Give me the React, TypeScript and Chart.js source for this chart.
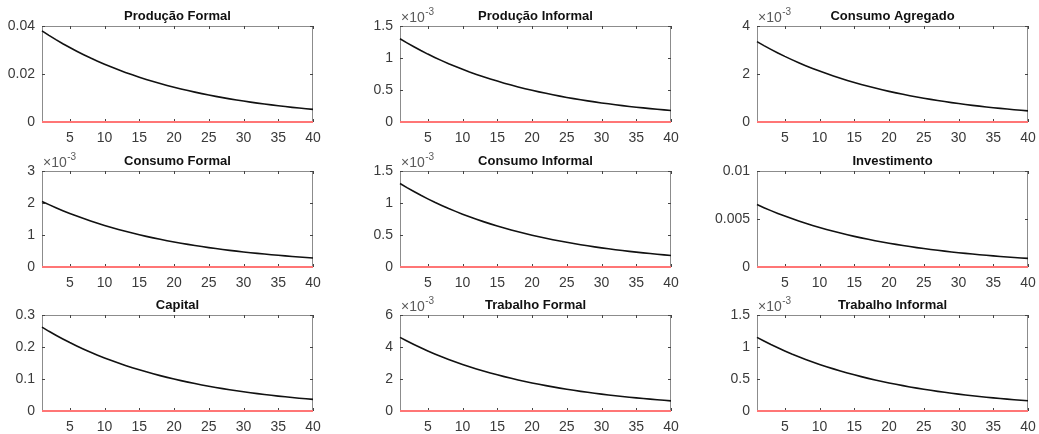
import React, { useEffect, useRef } from 'react';
import { Chart, registerables } from 'chart.js';

Chart.register(...registerables);

// ---------------- data ----------------
const periods = [1, 2, 3, 4, 5, 6, 7, 8, 9, 10, 11, 12, 13, 14, 15, 16, 17, 18, 19, 20,
  21, 22, 23, 24, 25, 26, 27, 28, 29, 30, 31, 32, 33, 34, 35, 36, 37, 38, 39, 40];

const steadyState = [0, 0, 0, 0, 0, 0, 0, 0, 0, 0, 0, 0, 0, 0, 0, 0, 0, 0, 0, 0,
  0, 0, 0, 0, 0, 0, 0, 0, 0, 0, 0, 0, 0, 0, 0, 0, 0, 0, 0, 0];

const producaoFormal = [0.0380, 0.03612, 0.03433, 0.03263, 0.03102, 0.02948, 0.02802, 0.02663, 0.02532, 0.02406,
  0.02287, 0.02174, 0.02066, 0.01964, 0.01867, 0.01775, 0.01687, 0.01603, 0.01524, 0.01449,
  0.01377, 0.01309, 0.01244, 0.01182, 0.01124, 0.01068, 0.01015, 0.00965, 0.00917, 0.00872,
  0.00829, 0.00788, 0.00749, 0.00712, 0.00676, 0.00643, 0.00611, 0.00581, 0.00552, 0.00525];

// values in units of 10^-3
const producaoInformal = [1.300, 1.236, 1.175, 1.116, 1.061, 1.009, 0.959, 0.911, 0.866, 0.823,
  0.782, 0.744, 0.707, 0.672, 0.639, 0.607, 0.577, 0.548, 0.521, 0.496,
  0.471, 0.448, 0.426, 0.404, 0.384, 0.365, 0.347, 0.330, 0.314, 0.298,
  0.284, 0.269, 0.256, 0.243, 0.231, 0.220, 0.209, 0.199, 0.189, 0.180];

const consumoAgregado = [3.350, 3.184, 3.027, 2.877, 2.734, 2.599, 2.470, 2.348, 2.232, 2.121,
  2.016, 1.917, 1.822, 1.732, 1.646, 1.564, 1.487, 1.413, 1.343, 1.277,
  1.214, 1.154, 1.096, 1.042, 0.991, 0.942, 0.895, 0.851, 0.809, 0.768,
  0.731, 0.694, 0.660, 0.627, 0.596, 0.567, 0.539, 0.512, 0.487, 0.463];

const consumoFormal = [2.050, 1.949, 1.852, 1.760, 1.673, 1.590, 1.512, 1.437, 1.366, 1.298,
  1.234, 1.173, 1.115, 1.060, 1.007, 0.957, 0.910, 0.865, 0.822, 0.781,
  0.743, 0.706, 0.671, 0.638, 0.606, 0.576, 0.548, 0.520, 0.495, 0.470,
  0.447, 0.425, 0.404, 0.384, 0.365, 0.347, 0.330, 0.313, 0.298, 0.283];

const consumoInformal = [1.305, 1.240, 1.179, 1.120, 1.065, 1.012, 0.962, 0.914, 0.869, 0.826,
  0.785, 0.746, 0.709, 0.674, 0.641, 0.609, 0.579, 0.550, 0.523, 0.497,
  0.473, 0.449, 0.427, 0.406, 0.386, 0.366, 0.348, 0.331, 0.315, 0.299,
  0.285, 0.270, 0.257, 0.244, 0.232, 0.221, 0.210, 0.199, 0.190, 0.180];

const investimento = [0.006500, 0.006178, 0.005873, 0.005582, 0.005305, 0.005043, 0.004793, 0.004556, 0.004330, 0.004116,
  0.003912, 0.003719, 0.003535, 0.003360, 0.003193, 0.003036, 0.002885, 0.002742, 0.002607, 0.002478,
  0.002355, 0.002239, 0.002127, 0.002022, 0.001922, 0.001827, 0.001737, 0.001650, 0.001569, 0.001491,
  0.001418, 0.001347, 0.001281, 0.001217, 0.001157, 0.001100, 0.001045, 0.000993, 0.000944, 0.000898];

const capital = [0.2620, 0.2490, 0.2367, 0.2250, 0.2138, 0.2033, 0.1932, 0.1836, 0.1745, 0.1659,
  0.1577, 0.1499, 0.1425, 0.1354, 0.1287, 0.1224, 0.1163, 0.1105, 0.1051, 0.0999,
  0.0949, 0.0902, 0.0858, 0.0815, 0.0775, 0.0736, 0.0700, 0.0665, 0.0632, 0.0601,
  0.0571, 0.0543, 0.0516, 0.0491, 0.0466, 0.0443, 0.0421, 0.0400, 0.0381, 0.0362];

const trabalhoFormal = [4.600, 4.372, 4.156, 3.950, 3.755, 3.569, 3.392, 3.224, 3.065, 2.913,
  2.769, 2.632, 2.501, 2.378, 2.260, 2.148, 2.042, 1.941, 1.845, 1.754,
  1.667, 1.584, 1.506, 1.431, 1.360, 1.293, 1.229, 1.168, 1.110, 1.055,
  1.003, 0.954, 0.906, 0.862, 0.819, 0.778, 0.740, 0.703, 0.668, 0.635];

const trabalhoInformal = [1.150, 1.093, 1.039, 0.988, 0.939, 0.892, 0.848, 0.806, 0.766, 0.728,
  0.692, 0.658, 0.625, 0.594, 0.565, 0.537, 0.510, 0.485, 0.461, 0.438,
  0.417, 0.396, 0.376, 0.358, 0.340, 0.323, 0.307, 0.292, 0.278, 0.264,
  0.251, 0.238, 0.227, 0.215, 0.205, 0.195, 0.185, 0.176, 0.167, 0.159];

const panelTitles = ['Produção Formal', 'Produção Informal', 'Consumo Agregado',
  'Consumo Formal', 'Consumo Informal', 'Investimento',
  'Capital', 'Trabalho Formal', 'Trabalho Informal'];

const panelSeries = [producaoFormal, producaoInformal, consumoAgregado,
  consumoFormal, consumoInformal, investimento,
  capital, trabalhoFormal, trabalhoInformal];

const panelExponents = ['', '-3', '-3', '-3', '-3', '', '', '-3', '-3'];

const xTicks = [5, 10, 15, 20, 25, 30, 35, 40];
const xTickLabels = ['5', '10', '15', '20', '25', '30', '35', '40'];

const yTicksProducaoFormal = [0, 0.02, 0.04];
const yLabelsProducaoFormal = ['0', '0.02', '0.04'];
const yTicksProducaoInformal = [0, 0.5, 1, 1.5];
const yLabelsProducaoInformal = ['0', '0.5', '1', '1.5'];
const yTicksConsumoAgregado = [0, 2, 4];
const yLabelsConsumoAgregado = ['0', '2', '4'];
const yTicksConsumoFormal = [0, 1, 2, 3];
const yLabelsConsumoFormal = ['0', '1', '2', '3'];
const yTicksConsumoInformal = [0, 0.5, 1, 1.5];
const yLabelsConsumoInformal = ['0', '0.5', '1', '1.5'];
const yTicksInvestimento = [0, 0.005, 0.01];
const yLabelsInvestimento = ['0', '0.005', '0.01'];
const yTicksCapital = [0, 0.1, 0.2, 0.3];
const yLabelsCapital = ['0', '0.1', '0.2', '0.3'];
const yTicksTrabalhoFormal = [0, 2, 4, 6];
const yLabelsTrabalhoFormal = ['0', '2', '4', '6'];
const yTicksTrabalhoInformal = [0, 0.5, 1, 1.5];
const yLabelsTrabalhoInformal = ['0', '0.5', '1', '1.5'];

const panelYTicks = [yTicksProducaoFormal, yTicksProducaoInformal, yTicksConsumoAgregado,
  yTicksConsumoFormal, yTicksConsumoInformal, yTicksInvestimento,
  yTicksCapital, yTicksTrabalhoFormal, yTicksTrabalhoInformal];
const panelYLabels = [yLabelsProducaoFormal, yLabelsProducaoInformal, yLabelsConsumoAgregado,
  yLabelsConsumoFormal, yLabelsConsumoInformal, yLabelsInvestimento,
  yLabelsCapital, yLabelsTrabalhoFormal, yLabelsTrabalhoInformal];

// ---------------- layout / style ----------------
const COL_LEFT = [42, 400, 757];
const ROW_TOP = [26, 171, 315];
const PLOT_W = 271;
const PLOT_H = 96;
const PAD_L = 42;
const PAD_T = 26;
const PAD_R = 10;
const PAD_B = 24;
const FONT = "'Liberation Sans', Arial, Helvetica, sans-serif";
const AXIS_COLOR = '#8c8c8c';
const TEXT_COLOR = '#3a3a3a';

const matlabAxesPlugin = {
  id: 'matlabAxes',
  beforeDatasetsDraw(chart: any) {
    const { ctx, chartArea } = chart;
    const { left, right, top, bottom } = chartArea;
    ctx.save();
    ctx.strokeStyle = AXIS_COLOR;
    ctx.lineWidth = 1;
    ctx.strokeRect(left + 0.5, top + 0.5, right - left - 1, bottom - top - 1);
    ctx.strokeStyle = '#444444';
    ctx.beginPath();
    const xs = chart.scales.x;
    xs.ticks.forEach((t: any) => {
      const px = Math.round(xs.getPixelForValue(t.value)) + 0.5;
      ctx.moveTo(px, bottom);
      ctx.lineTo(px, bottom - 3);
      ctx.moveTo(px, top);
      ctx.lineTo(px, top + 3);
    });
    const ys = chart.scales.y;
    ys.ticks.forEach((t: any) => {
      const py = Math.round(ys.getPixelForValue(t.value)) + 0.5;
      ctx.moveTo(left, py);
      ctx.lineTo(left + 3, py);
      ctx.moveTo(right, py);
      ctx.lineTo(right - 3, py);
    });
    ctx.stroke();
    ctx.restore();
  },
  afterDraw(chart: any, _args: any, opts: any) {
    const { ctx, chartArea } = chart;
    const { left, right, top } = chartArea;
    ctx.save();
    ctx.fillStyle = '#111111';
    ctx.font = `bold 13px ${FONT}`;
    ctx.textAlign = 'center';
    ctx.textBaseline = 'alphabetic';
    ctx.fillText(opts.title, (left + right) / 2, top - 6);
    if (opts.exponent) {
      ctx.fillStyle = '#5a5a5a';
      ctx.textAlign = 'left';
      ctx.font = `14px ${FONT}`;
      const base = '\u00d710';
      ctx.fillText(base, left + 1, top - 4);
      const w = ctx.measureText(base).width;
      ctx.font = `10px ${FONT}`;
      ctx.fillText(opts.exponent, left + 1 + w + 0.5, top - 11);
    }
    ctx.restore();
  },
};

function Panel({ index }: { index: number }) {
  const ref = useRef<HTMLCanvasElement | null>(null);
  const col = index % 3;
  const row = Math.floor(index / 3);
  const cw = PAD_L + PLOT_W + PAD_R;
  const ch = PAD_T + PLOT_H + PAD_B;
  const cl = COL_LEFT[col] - PAD_L;
  const ct = ROW_TOP[row] - PAD_T;

  useEffect(() => {
    const canvas = ref.current;
    if (!canvas) return;
    const series = panelSeries[index];
    const yTicks = panelYTicks[index];
    const yLabels = panelYLabels[index];
    const chart = new Chart(canvas, {
      type: 'line',
      data: {
        datasets: [
          {
            data: steadyState.map((y, i) => ({ x: periods[i], y })),
            borderColor: 'rgb(255,118,118)',
            borderWidth: 2,
            pointRadius: 0,
            clip: false,
          } as any,
          {
            data: series.map((y, i) => ({ x: periods[i], y })),
            borderColor: '#111111',
            borderWidth: 1.6,
            pointRadius: 0,
            clip: 4,
          } as any,
        ],
      },
      options: {
        animation: false,
        responsive: false,
        devicePixelRatio: 1,
        events: [],
        layout: { padding: { top: PAD_T, right: PAD_R, left: 0, bottom: 0 } },
        elements: { line: { tension: 0 } },
        plugins: {
          legend: { display: false },
          tooltip: { enabled: false },
          title: { display: false },
          matlabAxes: { title: panelTitles[index], exponent: panelExponents[index] },
        } as any,
        scales: {
          x: {
            type: 'linear',
            min: periods[0],
            max: periods[periods.length - 1],
            grid: { display: false, drawTicks: false },
            border: { display: false },
            ticks: {
              padding: 8,
              autoSkip: false,
              maxRotation: 0,
              color: TEXT_COLOR,
              font: { family: FONT, size: 14 },
              callback: (_v: any, i: number) => xTickLabels[i],
            },
            afterBuildTicks: (s: any) => {
              s.ticks = xTicks.map((v) => ({ value: v }));
            },
            afterFit: (s: any) => {
              s.height = PAD_B;
              s.paddingLeft = 0;
              s.paddingRight = 0;
            },
          },
          y: {
            type: 'linear',
            min: yTicks[0],
            max: yTicks[yTicks.length - 1],
            grid: { display: false, drawTicks: false },
            border: { display: false },
            ticks: {
              padding: 7,
              autoSkip: false,
              color: TEXT_COLOR,
              font: { family: FONT, size: 14 },
              callback: (_v: any, i: number) => yLabels[i],
            },
            afterBuildTicks: (s: any) => {
              s.ticks = yTicks.map((v) => ({ value: v }));
            },
            afterFit: (s: any) => {
              s.width = PAD_L;
              s.paddingTop = 0;
              s.paddingBottom = 0;
            },
          },
        } as any,
      },
      plugins: [matlabAxesPlugin as any],
    });
    return () => chart.destroy();
  }, [index]);

  return (
    <canvas
      ref={ref}
      width={cw}
      height={ch}
      style={{ position: 'absolute', left: cl, top: ct, width: cw, height: ch }}
    />
  );
}

export default function App() {
  return (
    <div style={{ position: 'absolute', left: 0, top: 0, width: 1039, height: 434, background: '#ffffff', overflow: 'hidden' }}>
      {panelTitles.map((_, i) => (
        <Panel key={i} index={i} />
      ))}
    </div>
  );
}
